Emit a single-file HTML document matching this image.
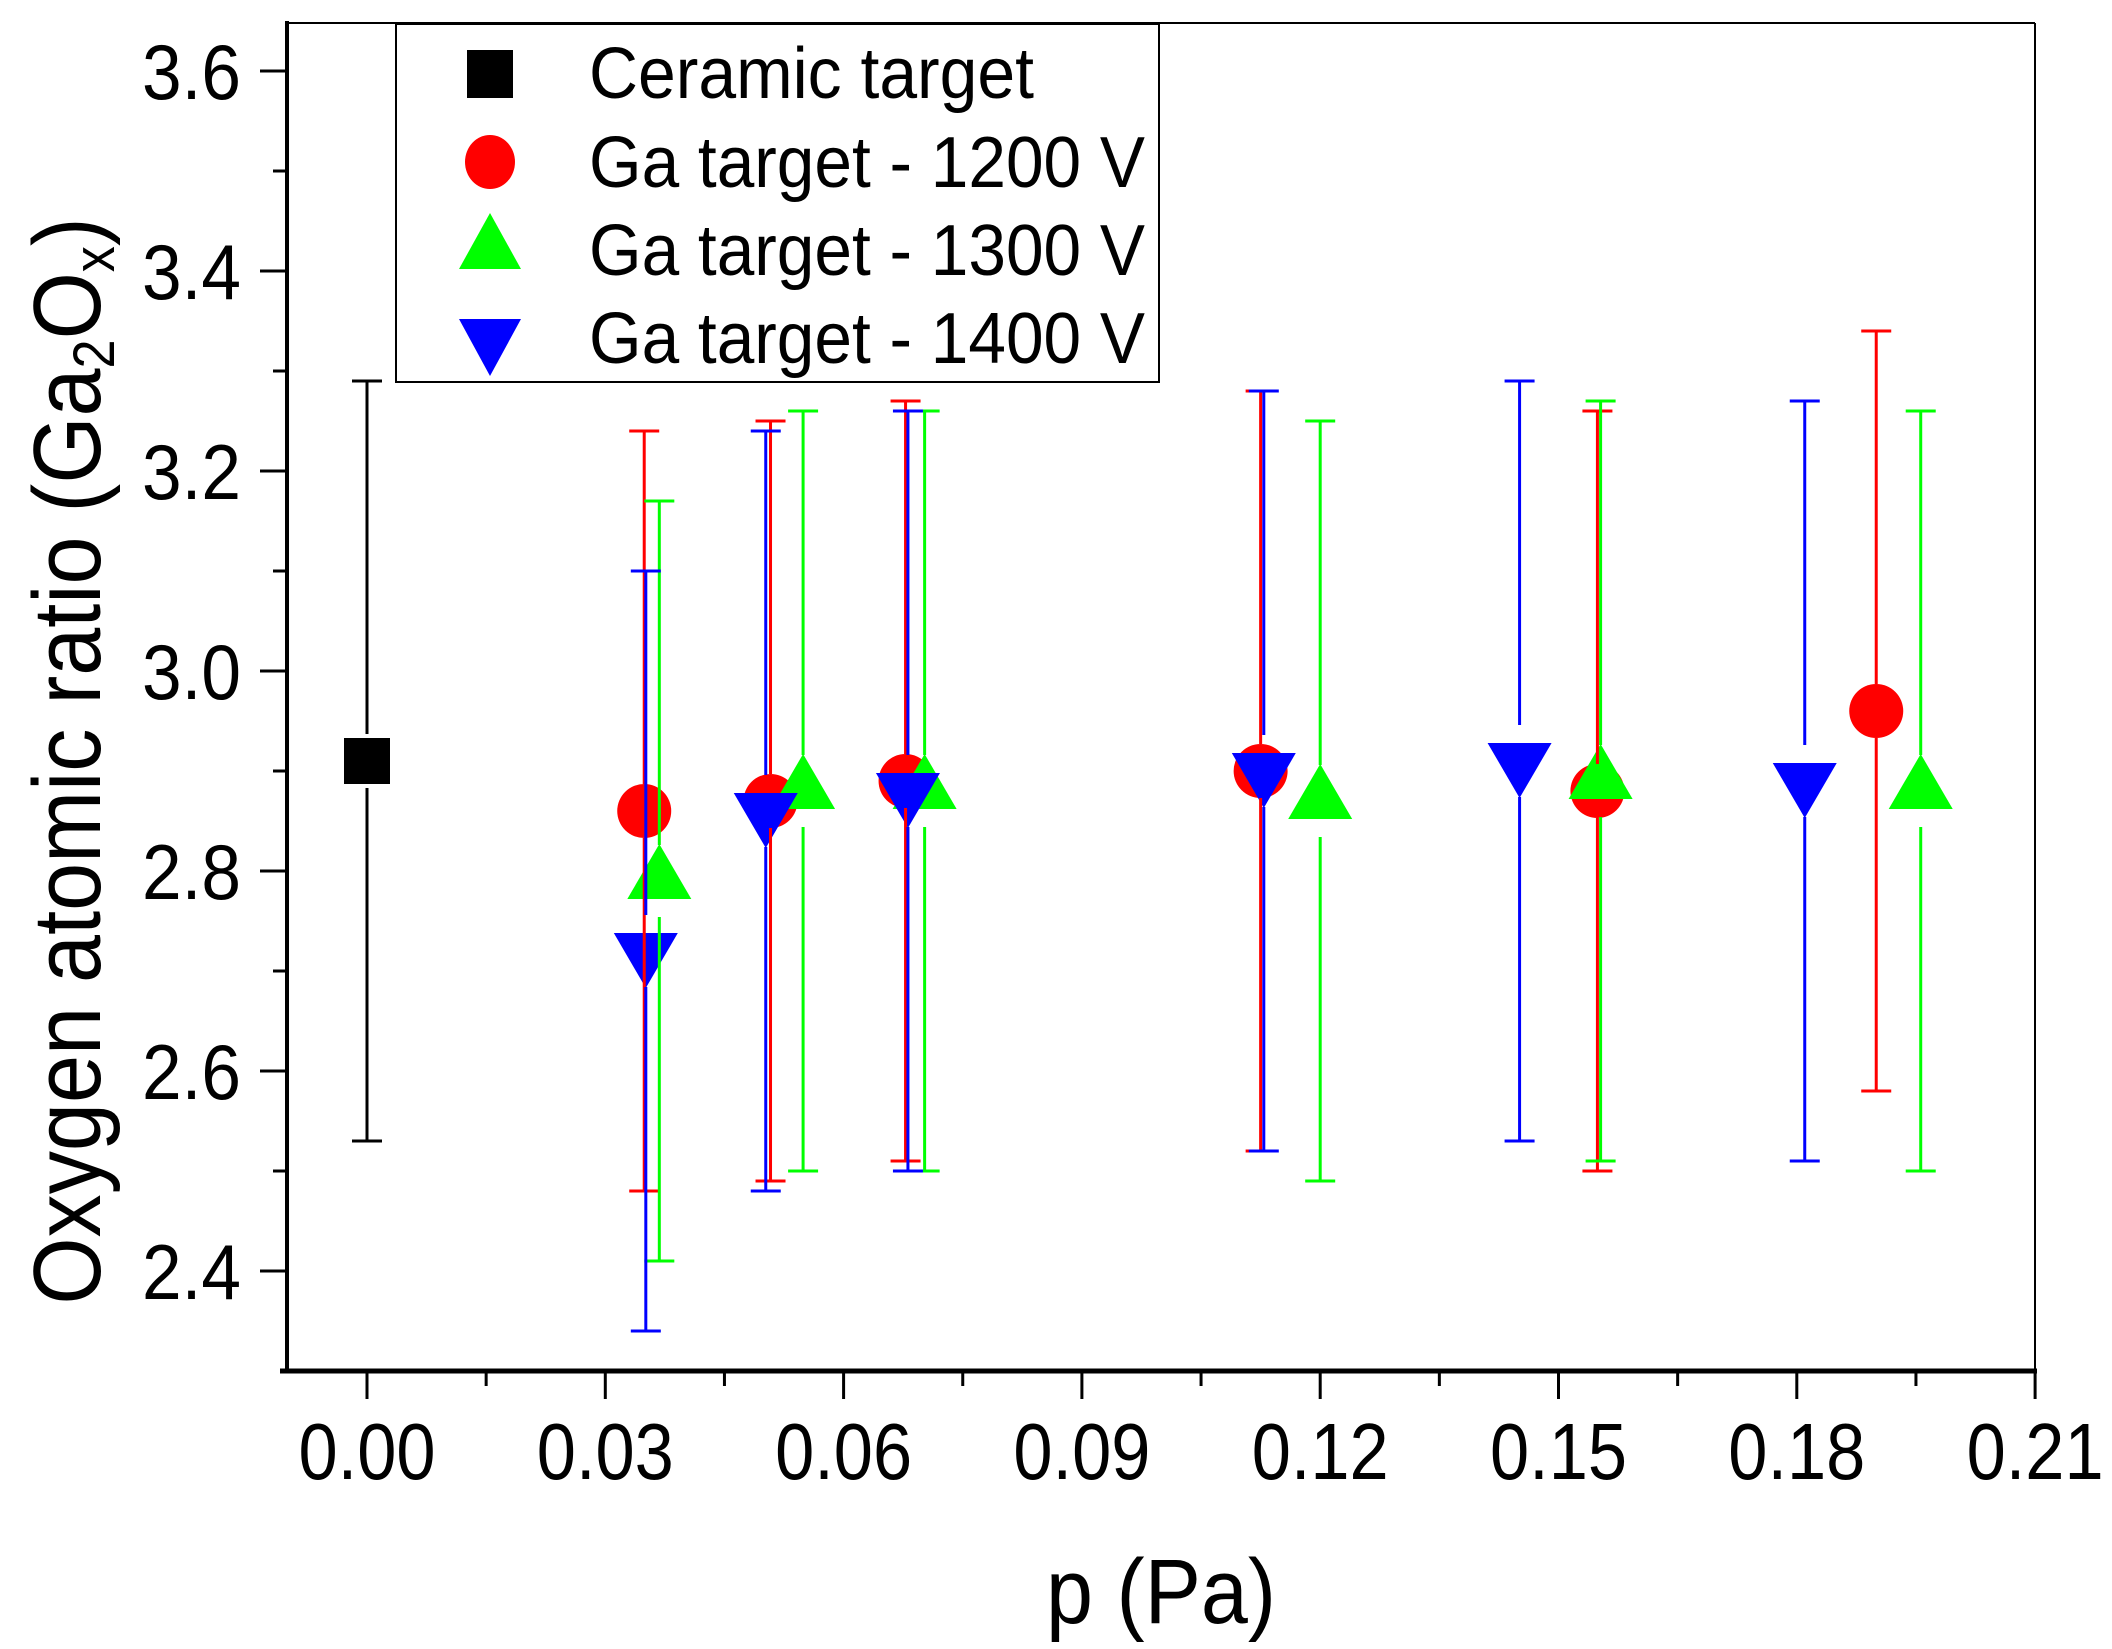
<!DOCTYPE html>
<html><head><meta charset="utf-8"><style>html,body{margin:0;padding:0;background:#fff}svg{display:block}text{font-family:"Liberation Sans",Arial,sans-serif;fill:#000}</style></head>
<body>
<svg id="s" width="2112" height="1649" viewBox="0 0 2112 1649" xmlns="http://www.w3.org/2000/svg">
<rect width="2112" height="1649" fill="#fff"/>
<g id="g"></g>
<line x1="287" y1="23" x2="2035" y2="23" stroke="#000" stroke-width="2"/>
<line x1="2035" y1="23" x2="2035" y2="1371" stroke="#000" stroke-width="2"/>
<line x1="287" y1="21" x2="287" y2="1373" stroke="#000" stroke-width="4"/>
<line x1="280" y1="1371" x2="2037" y2="1371" stroke="#000" stroke-width="5"/>
<g id="ticks"></g>
<rect x="396" y="24" width="763" height="358" fill="#fff" stroke="#000" stroke-width="2"/>
<rect x="467" y="50" width="46" height="48" fill="#000"/>
<ellipse cx="490" cy="162" rx="25" ry="27" fill="#f00"/>
<polygon points="490,213 459,269 521,269" fill="#0f0"/>
<polygon points="459,319 521,319 490,376" fill="#00f"/>
<text x="589" y="98" font-size="72" textLength="445" lengthAdjust="spacingAndGlyphs">Ceramic target</text>
<text x="589" y="187" font-size="72" textLength="556" lengthAdjust="spacingAndGlyphs">Ga target - 1200 V</text>
<text x="589" y="275" font-size="72" textLength="556" lengthAdjust="spacingAndGlyphs">Ga target - 1300 V</text>
<text x="589" y="363" font-size="72" textLength="556" lengthAdjust="spacingAndGlyphs">Ga target - 1400 V</text>
<text x="1161" y="1623" font-size="92" text-anchor="middle" textLength="230" lengthAdjust="spacingAndGlyphs">p (Pa)</text>
<g transform="translate(100,761) rotate(-90)"><g transform="scale(0.9,1)"><text x="0" y="0" font-size="96" text-anchor="middle">Oxygen atomic ratio (Ga<tspan font-size="58" dy="14">2</tspan><tspan dy="-14">O</tspan><tspan font-size="58" dy="14">x</tspan><tspan dy="-14">)</tspan></text></g></g>
</svg>
<script>
var NS="http://www.w3.org/2000/svg";
function el(p,n,a){var e=document.createElementNS(NS,n);for(var k in a)e.setAttribute(k,a[k]);p.appendChild(e);return e;}
var X=function(p){return 367+p/0.03*238.3;};
var Y=function(v){return 71+(3.6-v)*1000;};
var t=document.getElementById('ticks');
for(var i=0;i<=14;i++){var x=367+i*119.15;var maj=i%2==0;
 el(t,'line',{x1:x,y1:1371,x2:x,y2:maj?1399:1386,stroke:'#000','stroke-width':3});
 if(maj){var tx=el(t,'text',{x:x,y:1479,'font-size':80,'text-anchor':'middle',textLength:137,lengthAdjust:'spacingAndGlyphs'});tx.textContent=(i*0.015).toFixed(2);}}
for(var j=0;j<=13;j++){var v=3.6-j*0.1;var y=Y(v);if(y>1371)break;var maj=j%2==0;
 el(t,'line',{x1:maj?260:273,y1:y,x2:287,y2:y,stroke:'#000','stroke-width':3});
 if(maj){var ty=el(t,'text',{x:241,y:y+28,'font-size':78,'text-anchor':'end',textLength:99,lengthAdjust:'spacingAndGlyphs'});ty.textContent=v.toFixed(1);}}
var S=[
 {c:'#000',m:'sq',d:[[0,2.91]]},
 {c:'#f00',m:'ci',d:[[0.0349,2.86],[0.0508,2.87],[0.0678,2.89],[0.1125,2.90],[0.1549,2.88],[0.190,2.96]]},
 {c:'#0f0',m:'up',d:[[0.0368,2.79],[0.0549,2.88],[0.0702,2.88],[0.12,2.87],[0.1553,2.89],[0.1956,2.88]]},
 {c:'#00f',m:'dn',d:[[0.0351,2.72],[0.0502,2.86],[0.0681,2.88],[0.1129,2.90],[0.1451,2.91],[0.181,2.89]]}];
var g=document.getElementById('g');
S.forEach(function(s){s.d.forEach(function(p){var x=X(p[0]),y=Y(p[1]);
 if(s.m=='sq')el(g,'rect',{x:x-23,y:y-23,width:46,height:46,fill:s.c});
 if(s.m=='ci')el(g,'circle',{cx:x,cy:y,r:27,fill:s.c});
 if(s.m=='up')el(g,'polygon',{points:(x)+','+(y-37)+' '+(x-32)+','+(y+18)+' '+(x+32)+','+(y+18),fill:s.c});
 if(s.m=='dn')el(g,'polygon',{points:(x)+','+(y+37)+' '+(x-32)+','+(y-18)+' '+(x+32)+','+(y-18),fill:s.c});});});
S.forEach(function(s){var gap=(s.m=='up'||s.m=='dn')?36:27;s.d.forEach(function(p){var x=X(p[0]),y=Y(p[1]);var yt=Y(p[1]+0.38),yb=Y(p[1]-0.38);
 el(g,'line',{x1:x,y1:yt,x2:x,y2:y-gap,stroke:s.c,'stroke-width':3});
 el(g,'line',{x1:x,y1:y+gap,x2:x,y2:yb,stroke:s.c,'stroke-width':3});
 el(g,'line',{x1:x-15,y1:yt,x2:x+15,y2:yt,stroke:s.c,'stroke-width':3});
 el(g,'line',{x1:x-15,y1:yb,x2:x+15,y2:yb,stroke:s.c,'stroke-width':3});});});
</script>
</body></html>
